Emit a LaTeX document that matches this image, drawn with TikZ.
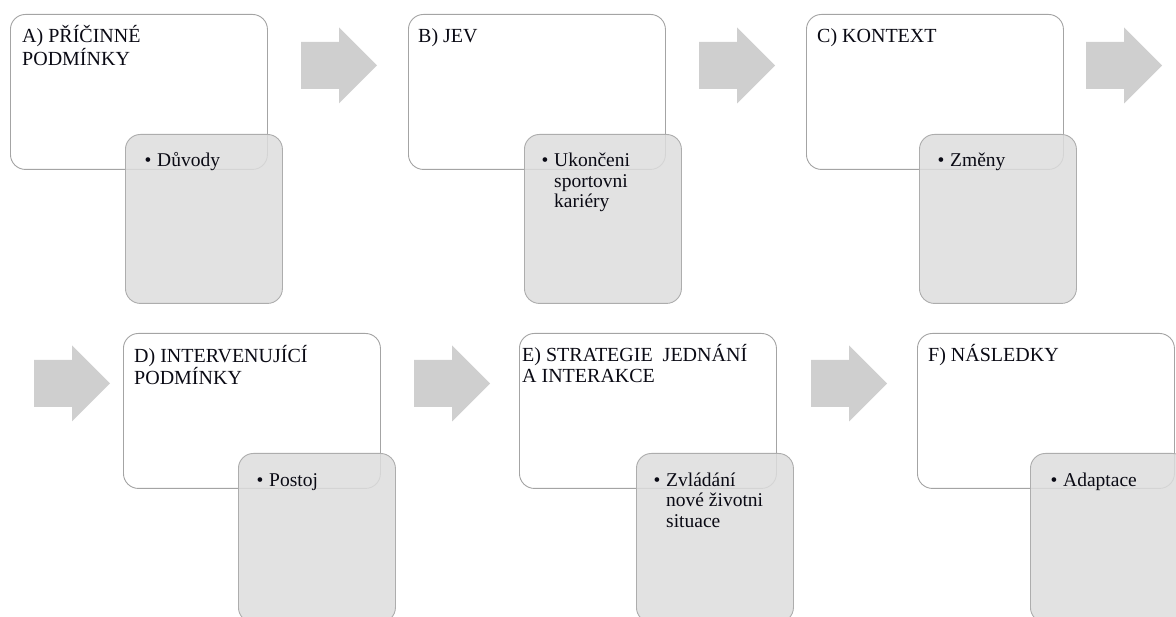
\documentclass[tikz,border=0pt]{standalone}
\usepackage{fontspec}
\setmainfont{Liberation Serif}
\definecolor{boxline}{HTML}{A4A4A4}
\definecolor{greyline}{HTML}{ADADAD}
\definecolor{greyfill}{HTML}{DDDDDD}
\definecolor{arrowfill}{HTML}{CFCFCF}
\definecolor{textcol}{HTML}{0A0A14}
\begin{document}
\begin{tikzpicture}[x=1pt,y=-1pt,
  wbox/.style={draw=boxline, fill=white, line width=0.9pt, rounded corners=15pt,
    minimum width=257pt, minimum height=155pt, anchor=north west, inner sep=0pt},
  gbox/.style={draw=greyline, fill=greyfill, fill opacity=0.85, line width=0.9pt,
    rounded corners=15pt, minimum width=157pt, minimum height=169pt,
    anchor=north west, inner sep=0pt},
  title/.style={anchor=base west, inner sep=0pt,
    font=\fontsize{20}{21}\selectfont, text=textcol},
  item/.style={anchor=base west, inner sep=0pt,
    font=\fontsize{19.5}{20.5}\selectfont, text=textcol},
  bigarrow/.pic={
    \fill[arrowfill] (0,-23.5) -- (38,-23.5) -- (38,-38) -- (76,0)
      -- (38,38) -- (38,23.5) -- (0,23.5) -- cycle;
  }
]
\useasboundingbox (0,0) rectangle (1176,617);
\clip (0,0) rectangle (1176,617);

% heading block: lines stacked from the first baseline down
\newcommand{\headblock}[1]{\parbox[t]{250pt}{\raggedright #1}}
% bullet entry: bullet, then a top-aligned block of lines
\newcommand{\bulletitem}[1]{\makebox[12.5pt][l]{\textbullet}\parbox[t]{120pt}{\raggedright #1}}

% ---- top row ----
\node[wbox] (A) at (10,14) {};
\node[title] (At) at ([shift={(12,29)}]A.north west) {\headblock{A) PŘÍČINNÉ\\PODMÍNKY}};
\node[gbox] (Ag) at (125,134) {};
\node[item] (Ai) at ([shift={(19.5,33)}]Ag.north west) {\bulletitem{Důvody}};

\pic at (301,65.5) {bigarrow};

\node[wbox] (B) at (408,14) {};
\node[title] (Bt) at ([shift={(10,28.5)}]B.north west) {\headblock{B) JEV}};
\node[gbox] (Bg) at (524,134) {};
\node[item] (Bi) at ([shift={(17.5,33)}]Bg.north west) {\bulletitem{Ukončeni\\sportovni\\kariéry}};

\pic at (699,65.5) {bigarrow};

\node[wbox] (C) at (806,14) {};
\node[title] (Ct) at ([shift={(11,28.5)}]C.north west) {\headblock{C) KONTEXT}};
\node[gbox] (Cg) at (919,134) {};
\node[item] (Ci) at ([shift={(18.5,33)}]Cg.north west) {\bulletitem{Změny}};

\pic at (1086,65.5) {bigarrow};

% ---- bottom row ----
\pic at (34,383.5) {bigarrow};

\node[wbox] (D) at (123,333) {};
\node[title] (Dt) at ([shift={(11,29.5)}]D.north west) {\headblock{D) INTERVENUJÍCÍ\\PODMÍNKY}};
\node[gbox] (Dg) at (238,453) {};
\node[item] (Di) at ([shift={(18.5,33)}]Dg.north west) {\bulletitem{Postoj}};

\pic at (414,383.5) {bigarrow};

\node[wbox] (E) at (519,333) {};
\node[title] (Et) at ([shift={(3,29)}]E.north west) {\headblock{E) STRATEGIE\ \ JEDNÁNÍ\\A INTERAKCE}};
\node[gbox] (Eg) at (636,453) {};
\node[item] (Ei) at ([shift={(17.5,33)}]Eg.north west) {\bulletitem{Zvládání\\nové životni\\situace}};

\pic at (811,383.5) {bigarrow};

\node[wbox] (F) at (917,333) {};
\node[title] (Ft) at ([shift={(11,29)}]F.north west) {\headblock{F) NÁSLEDKY}};
\node[gbox] (Fg) at (1030,453) {};
\node[item] (Fi) at ([shift={(20.5,33)}]Fg.north west) {\bulletitem{Adaptace}};
\end{tikzpicture}
\end{document}
